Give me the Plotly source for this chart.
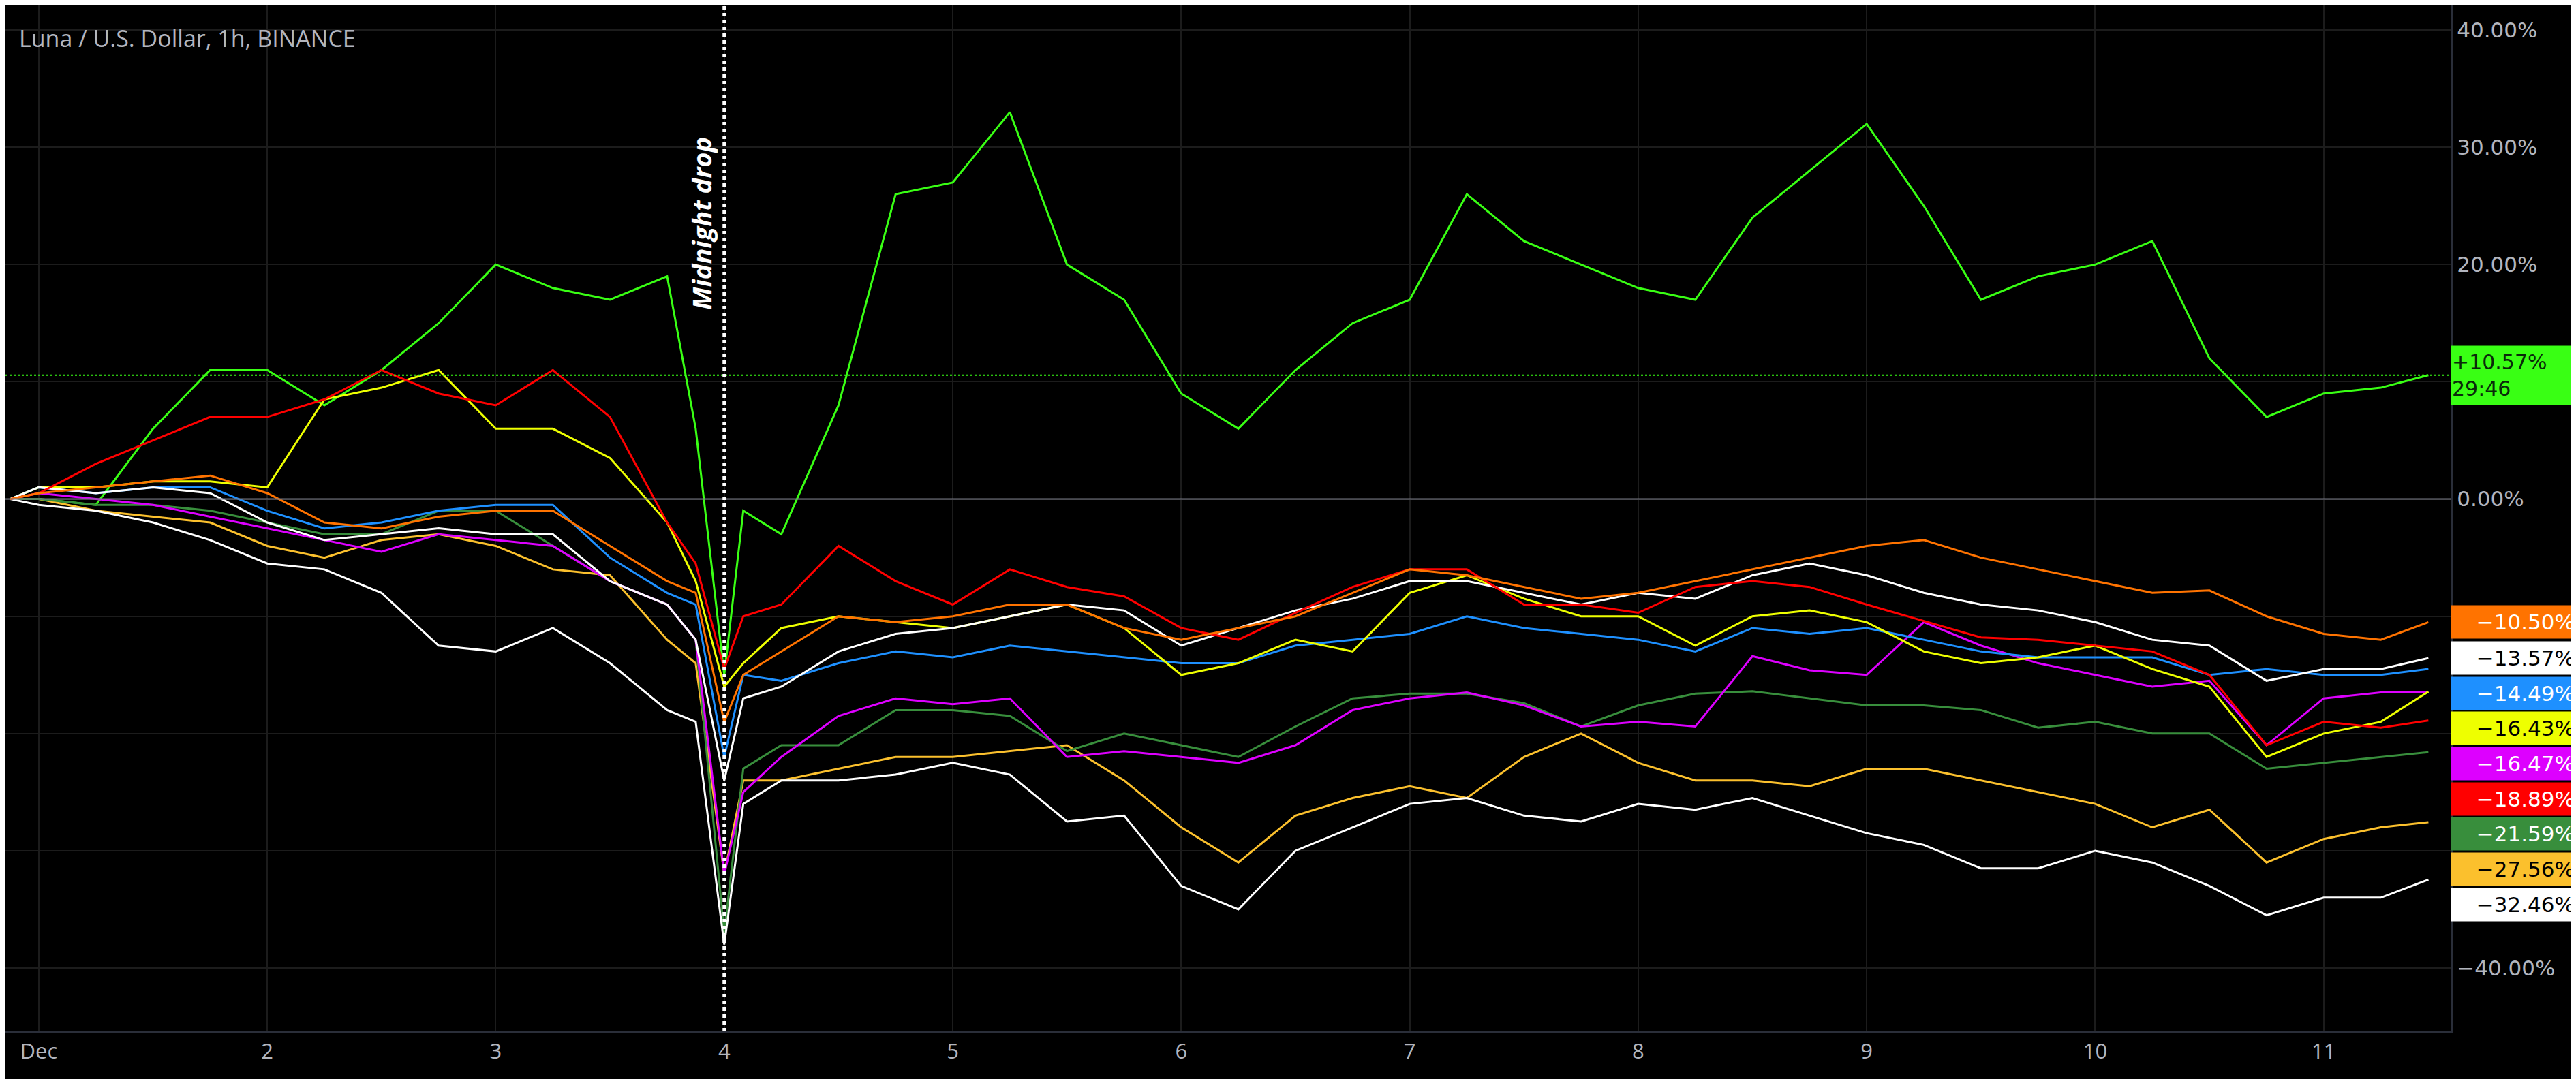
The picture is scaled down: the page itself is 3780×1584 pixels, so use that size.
import plotly.graph_objects as go

times = ["2021-11-30 21:00"] + [f"2021-12-{d:02d} {h:02d}:00" for d in range(1, 4) for h in (0, 6, 12, 18)] + \
        ["2021-12-03 21:00", "2021-12-04 00:00", "2021-12-04 02:00", "2021-12-04 06:00", "2021-12-04 12:00", "2021-12-04 18:00"] + \
        [f"2021-12-{d:02d} {h:02d}:00" for d in range(5, 11) for h in (0, 6, 12, 18)] + \
        ["2021-12-11 00:00", "2021-12-11 06:00", "2021-12-11 11:00"]

lime = [0,0,-0.5,6,11, 11,8,11,15,20, 18,17,19,6,-15, -1,-3,8,26,27, 33,20,17,9,6, 11,15,17,26,22,
        20,18,17,24,28, 32,25,17,19,20, 22,12,7,9,9.5,10.57]
red = [0,0.5,3,5,7, 7,8.5,11,9,8, 11,7,-2,-5.5,-14.5, -10,-9,-4,-7,-9, -6,-7.5,-8.3,-11,-12, -9.7,-7.5,-6,-6,-9,
       -9,-9.7,-7.5,-7,-7.5, -9,-10.4,-11.8,-12,-12.5, -13,-15,-21,-19,-19.5,-18.89]
orange = [0,0.5,1,1.5,2, 0.5,-2,-2.5,-1.5,-1, -1,-4,-7,-8,-19, -15,-13,-10,-10.5,-10, -9,-9,-11,-12,-11,
          -10,-8,-6,-6.5,-7.5, -8.5,-8,-7,-6,-5, -4,-3.5,-5,-6,-7, -8,-7.8,-10,-11.5,-12,-10.5]
white1 = [0,1,0.5,1,0.5, -2,-3.5,-3,-2.5,-3, -3,-7,-9,-12,-24, -17,-16,-13,-11.5,-11, -10,-9,-9.5,-12.5,-11,
          -9.5,-8.5,-7,-7,-8, -9,-8,-8.5,-6.5,-5.5, -6.5,-8,-9,-9.5,-10.5, -12,-12.5,-15.5,-14.5,-14.5,-13.57]
blue = [0,1,0.5,1,1, -1,-2.5,-2,-1,-0.5, -0.5,-5,-8,-9,-22, -15,-15.5,-14,-13,-13.5, -12.5,-13,-13.5,-14,-14,
        -12.5,-12,-11.5,-10,-11, -11.5,-12,-13,-11,-11.5, -11,-12,-13,-13.5,-13.5, -13.5,-15,-14.5,-15,-15,-14.49]
yellow = [0,1,1,1.5,1.5, 1,8.5,9.5,11,6, 6,3.5,-2,-7,-16, -14,-11,-10,-10.5,-11, -10,-9,-11,-15,-14,
          -12,-13,-8,-6.5,-8.5, -10,-10,-12.5,-10,-9.5, -10.5,-13,-14,-13.5,-12.5, -14.5,-16,-22,-20,-19,-16.43]
magenta = [0,0.5,0,-0.5,-1.5, -2.5,-3.5,-4.5,-3,-3.5, -4,-7,-9,-12,-32, -25,-22,-18.5,-17,-17.5, -17,-22,-21.5,-22,-22.5,
           -21,-18,-17,-16.5,-17.6, -19.4,-19,-19.4,-13.4,-14.6, -15,-10.5,-12.5,-14,-15, -16,-15.5,-21,-17,-16.5,-16.47]
dkgreen = [0,0,-0.5,-0.5,-1, -2,-3,-3,-1,-1, -4,-7,-9,-12,-37, -23,-21,-21,-18,-18, -18.5,-21.5,-20,-21,-22,
           -19.4,-17,-16.6,-16.6,-17.4, -19.4,-17.6,-16.6,-16.4,-17, -17.6,-17.6,-18,-19.5,-19, -20,-20,-23,-22.5,-22,-21.59]
gold = [0,0,-1,-1.5,-2, -4,-5,-3.5,-3,-4, -6,-6.5,-12,-14,-32, -24,-24,-23,-22,-22, -21.5,-21,-24,-28,-31,
        -27,-25.5,-24.5,-25.5,-22, -20,-22.5,-24,-24,-24.5, -23,-23,-24,-25,-26, -28,-26.5,-31,-29,-28,-27.56]
white2 = [0,-0.5,-1,-2,-3.5, -5.5,-6,-8,-12.5,-13, -11,-14,-18,-19,-38, -26,-24,-24,-23.5,-22.5, -23.5,-27.5,-27,-33,-35,
          -30,-28,-26,-25.5,-27, -27.5,-26,-26.5,-25.5,-27, -28.5,-29.5,-31.5,-31.5,-30, -31,-33,-35.5,-34,-34,-32.46]

series = [
    (lime, "#39ff14", "#0a2a0a"),
    (gold, "#fbc02d", "#000000"),
    (dkgreen, "#388e3c", "#ffffff"),
    (white2, "#ffffff", "#000000"),
    (magenta, "#dd00ff", "#ffffff"),
    (blue, "#1e90ff", "#ffffff"),
    (yellow, "#eeff00", "#000000"),
    (white1, "#ffffff", "#000000"),
    (red, "#ff0000", "#ffffff"),
    (orange, "#ff7300", "#ffffff"),
]

y_ticks = [40, 30, 20, 10, 0, -10, -20, -30, -40]
y_tick_text = ["40.00%", "30.00%", "20.00%", "", "0.00%", "", "", "", "−40.00%"]
x_tickvals = [f"2021-12-{d:02d}" for d in range(1, 12)]
x_ticktext = ["Dec"] + [str(d) for d in range(2, 12)]

fig = go.Figure()
for vals, col, _ in series:
    fig.add_trace(go.Scatter(x=times, y=vals, mode="lines", line=dict(color=col, width=3),
                             showlegend=False, hoverinfo="skip"))

fig.add_shape(type="line", xref="paper", x0=0, x1=1, yref="y", y0=0, y1=0, line=dict(color="#787b86", width=2))
fig.add_shape(type="line", xref="paper", x0=0, x1=1, yref="y", y0=lime[-1], y1=lime[-1],
              line=dict(color="#39ff14", width=2, dash="dot"))
fig.add_shape(type="line", x0="2021-12-04 00:00", x1="2021-12-04 00:00", yref="paper", y0=0, y1=1,
              line=dict(color="#ffffff", width=5, dash="dot"))
fig.add_annotation(x="2021-12-04 00:00", y=23.5, text="<b><i>Midnight drop</i></b>", textangle=-90,
                   showarrow=False, xanchor="right", xshift=-6,
                   font=dict(family="Open Sans", size=38, color="#ffffff"))
fig.add_annotation(xref="paper", yref="paper", x=0.005, y=0.985, xanchor="left", yanchor="top",
                   text="Luna / U.S. Dollar, 1h, BINANCE", showarrow=False,
                   font=dict(family="Open Sans", size=34, color="#b2b5be"))

fig.add_annotation(xref="paper", x=1.0, y=lime[-1], xanchor="left", yanchor="middle", showarrow=False,
                   text="+%.2f%%<br>29:46" % lime[-1], align="left", bgcolor="#39ff14", width=180, height=84,
                   font=dict(family="DejaVu Sans", size=30, color="#0a2a0a"))
neg = sorted(series[1:], key=lambda s: -s[0][-1])
prev = None
for vals, col, tcol in neg:
    pos = vals[-1] if prev is None else min(vals[-1], prev - 3.0)
    prev = pos
    fig.add_annotation(xref="paper", x=1.0, y=pos, xanchor="left", yanchor="middle", showarrow=False,
                       text="−%.2f%%" % abs(vals[-1]), align="right", bgcolor=col, width=180, height=46,
                       font=dict(family="DejaVu Sans", size=31, color=tcol))

fig.update_layout(
    width=3780, height=1584, paper_bgcolor="#000000", plot_bgcolor="#000000",
    margin=dict(l=0, r=192, t=0, b=78),
    xaxis=dict(range=["2021-11-30 20:30", "2021-12-11 13:20"], tickvals=x_tickvals, ticktext=x_ticktext,
               showgrid=True, gridcolor="#1c1c1c", gridwidth=2, zeroline=False, showline=True,
               linecolor="#2a2e39", linewidth=3, ticks="", tickfont=dict(family="Open Sans", size=31, color="#b2b5be")),
    yaxis=dict(side="right", range=[-45.4, 42.1], tickvals=y_ticks, ticktext=y_tick_text,
               showgrid=True, gridcolor="#1c1c1c", gridwidth=2, zeroline=False, showline=True,
               linecolor="#2a2e39", linewidth=3, ticks="",
               tickfont=dict(family="DejaVu Sans", size=31, color="#b2b5be")),
)
fig.write_html("out.html")
